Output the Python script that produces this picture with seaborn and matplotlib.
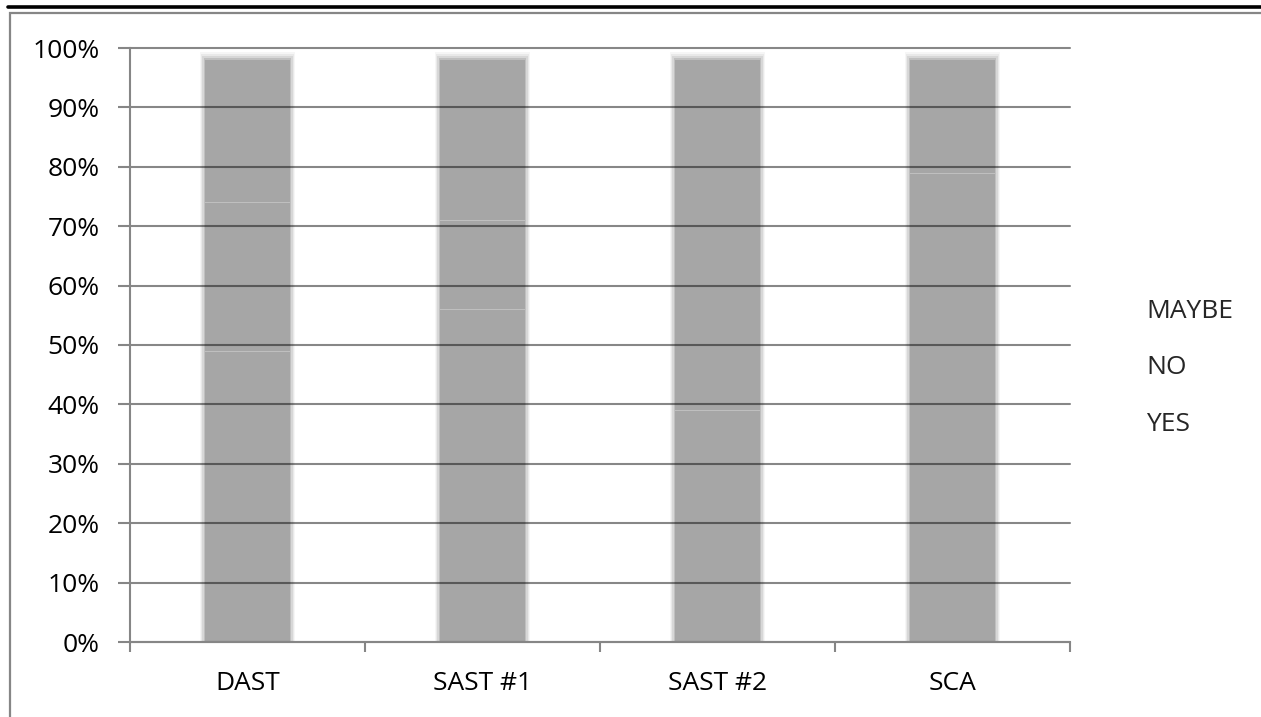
import numpy as np
import pandas as pd
import matplotlib
matplotlib.use("Agg")
import matplotlib.pyplot as plt
from matplotlib.patches import Rectangle, Patch
from matplotlib.lines import Line2D
import seaborn as sns

# Survey responses per tool (percent of respondents)
categories = ["DAST", "SAST #1", "SAST #2", "SCA"]
yes_pct = [49, 56, 39, 79]
no_pct = [25, 15, 61, 21]
maybe_pct = [26, 29, 0, 0]
series_names = ["YES", "NO", "MAYBE"]
y_ticks = list(range(0, 101, 10))
y_tick_labels = [f"{t}%" for t in y_ticks]

sns.set_theme(style="white")
plt.rcParams["font.family"] = ["Open Sans", "DejaVu Sans"]
FS = 19

W, H, DPI = 1261, 717, 100
fig = plt.figure(figsize=(W / DPI, H / DPI), dpi=DPI)
ax_left, ax_right, ax_bottom, ax_top = 130, 1070, 642, 48
ax = fig.add_axes([ax_left / W, (H - ax_bottom) / H,
                   (ax_right - ax_left) / W, (ax_bottom - ax_top) / H])

df = pd.DataFrame({"tool": categories, "YES": yes_pct, "NO": no_pct, "MAYBE": maybe_pct})

# pixel -> data conversions for the soft bar edges
px_x = 4.0 / (ax_right - ax_left)          # x data units per pixel (4 categories)
px_y = 100.0 / (ax_bottom - ax_top)        # y data units per pixel

bar_width = 0.405
base = np.array([166, 166, 166]) / 255.0
coverage = [0.10, 0.25, 0.45, 0.72, 1.0]
layer_colors = [tuple(1 - c * (1 - base)) for c in coverage]

vals = df[series_names].to_numpy(dtype=float)
bottoms = np.zeros(len(categories))
n_layers = len(coverage)
for s, name in enumerate(series_names):
    heights = vals[:, s]
    is_top = np.array([vals[i, s + 1:].sum() == 0 for i in range(len(categories))])
    for k in range(n_layers):
        w = bar_width - 2 * k * 1.2 * px_x
        inner = 0.8 * px_y if k == n_layers - 1 else 0.0
        top_inset = np.where(is_top, (4 + 2 * k) * px_y, inner)
        h = np.clip(heights - top_inset, 0, None)
        h = np.where(heights > 0, h, 0)
        sns.barplot(x=df["tool"], y=h, bottom=bottoms, width=w, color=layer_colors[k],
                    saturation=1, linewidth=0, ax=ax, order=categories, zorder=1)
    bottoms = bottoms + heights

ax.set_xlim(-0.5, len(categories) - 0.5)
ax.set_ylim(0, 100)
ax.set_yticks(y_ticks)
ax.set_yticklabels(y_tick_labels)
ax.set_xlabel("")
ax.set_ylabel("")

ax.set_axisbelow(False)
ax.yaxis.grid(True, color="black", alpha=0.47, linewidth=1.5, zorder=3)
ax.xaxis.grid(False)
for gl in ax.yaxis.get_gridlines():
    gl.set_clip_on(False)
    gl.set_zorder(3)

spine_col = "#868686"
for side in ["top", "right"]:
    ax.spines[side].set_visible(False)
for side in ["left", "bottom"]:
    ax.spines[side].set_color(spine_col)
    ax.spines[side].set_linewidth(1.5)
    ax.spines[side].set_zorder(4)

ax.tick_params(axis="y", which="major", direction="out", length=9, width=1.5,
               color=spine_col, pad=13, labelsize=FS, labelcolor="black", left=True)
ax.set_xticks(np.arange(-0.5, len(categories), 1.0), minor=True)
ax.tick_params(axis="x", which="major", length=0, pad=21, labelsize=FS, labelcolor="black")
ax.tick_params(axis="x", which="minor", direction="out", length=7, width=1.5,
               color=spine_col, bottom=True)

# Legend: labels only, top series first
handles = [Patch(facecolor="none", edgecolor="none") for _ in series_names]
fig.legend(handles[::-1], series_names[::-1], loc="upper left",
           bbox_to_anchor=(1146 / W, (H - 299) / H), frameon=False,
           handlelength=0, handletextpad=0, borderpad=0, borderaxespad=0,
           labelspacing=1.19, fontsize=FS)

# Outer chart frame and the heavy rule above it
fig.add_artist(Rectangle((10 / W, -0.05), 1.05, (H - 13) / H + 0.05,
                         transform=fig.transFigure, fill=False,
                         edgecolor=spine_col, linewidth=1.6))
fig.add_artist(Line2D([8 / W, 1.0], [(H - 6.5) / H] * 2, transform=fig.transFigure,
                      color="black", linewidth=2.6))

fig.savefig("out.png", dpi=DPI)
